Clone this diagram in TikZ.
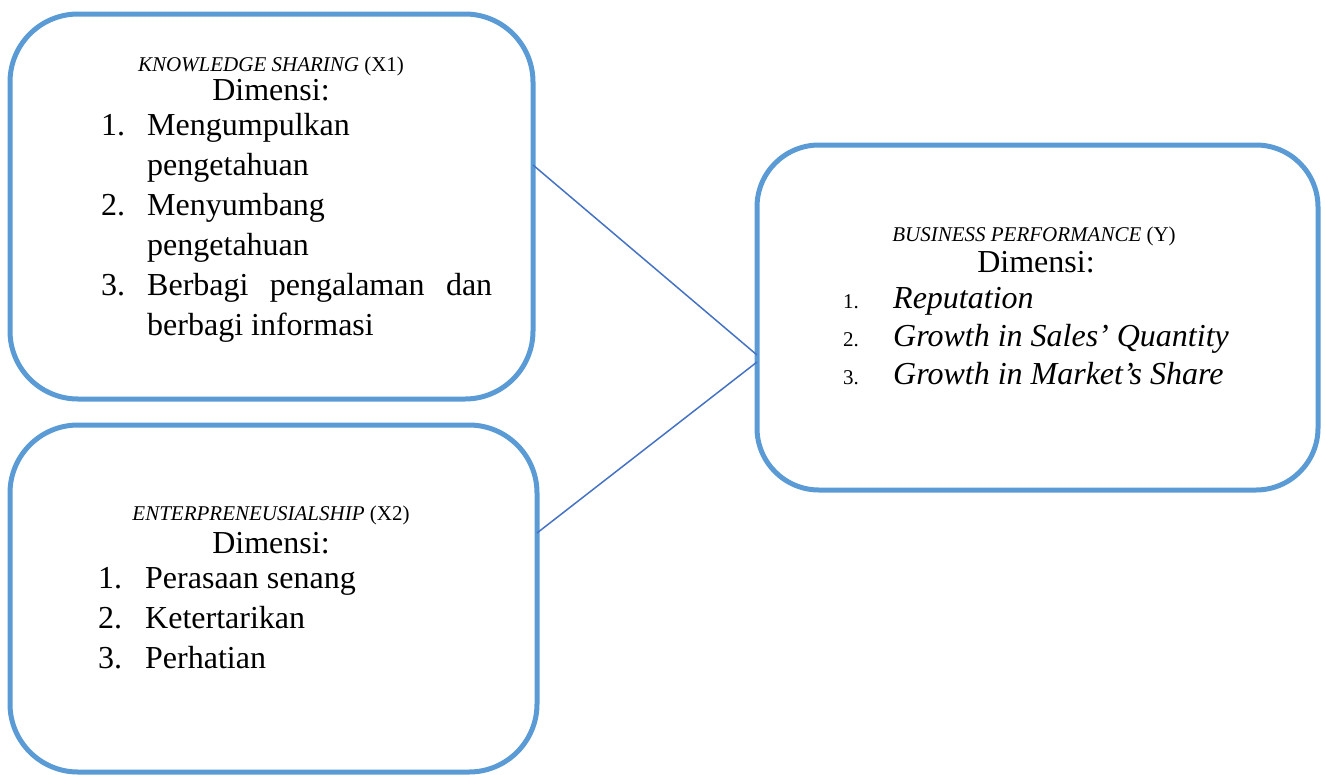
\documentclass[tikz,border=0pt]{standalone}
\usepackage{fontspec}
\setmainfont{Liberation Serif}
\definecolor{boxblue}{HTML}{5B9BD5}
\definecolor{lineblue}{HTML}{4472C4}
\tikzset{
  boxframe/.style={draw=boxblue, line width=5pt, rounded corners=68pt},
  conn/.style={draw=lineblue, line width=1.5pt},
  ttl/.style={anchor=base, inner sep=0pt, text depth=0pt, font=\fontsize{21}{25}\selectfont},
  dim/.style={anchor=base, inner sep=0pt, text height=21pt, font=\fontsize{32}{40}\selectfont},
  itm/.style={anchor=base west, inner sep=0pt, font=\fontsize{32}{40}\selectfont},
  smnum/.style={anchor=base west, inner sep=0pt, font=\fontsize{21}{25}\selectfont},
}
\begin{document}
\begin{tikzpicture}[x=1pt,y=-1pt]
\useasboundingbox (0,0) rectangle (1325,774);
% boxes
\draw[boxframe] (10,14) rectangle (533,399);
\draw[boxframe] (10,425) rectangle (537,772);
\draw[boxframe, rounded corners=62pt] (757,145) rectangle (1318,490);
% anchor coordinates on box edges
\coordinate (a1) at (533,165);
\coordinate (a2) at (537,533);
\coordinate (b1) at (757,355);
\coordinate (b2) at (757,362);
\draw[conn] (a1) -- (b1);
\draw[conn] (a2) -- (b2);
% Box 1
\node[ttl] (t1) at (271,71) {\textit{KNOWLEDGE SHARING} (X1)};
\node[dim] (d1) at (271,100) {Dimensi:};
\node[itm] (n11) at (101,135) {1.};
\node[itm] (i11) at (147,135) {Mengumpulkan};
\node[itm] (i12) at (147,175) {pengetahuan};
\node[itm] (n12) at (101,215) {2.};
\node[itm] (i13) at (147,215) {Menyumbang};
\node[itm] (i14) at (147,255) {pengetahuan};
\node[itm] (n13) at (101,295) {3.};
\node[itm] (i15) at (147,295) {\makebox[345pt][s]{Berbagi pengalaman dan}};
\node[itm] (i16) at (147,335) {berbagi informasi};
% Box 2
\node[ttl] (t2) at (271,520) {\textit{ENTERPRENEUSIALSHIP} (X2)};
\node[dim] (d2) at (271,553) {Dimensi:};
\node[itm] (n21) at (98,588) {1.};
\node[itm] (i21) at (145,588) {Perasaan senang};
\node[itm] (n22) at (98,628) {2.};
\node[itm] (i22) at (145,628) {Ketertarikan};
\node[itm] (n23) at (98,668) {3.};
\node[itm] (i23) at (145,668) {Perhatian};
% Box 3
\node[ttl] (t3) at (1034,241) {\textit{BUSINESS PERFORMANCE} (Y)};
\node[dim] (d3) at (1036,272) {Dimensi:};
\node[smnum] (n31) at (843,308) {1.};
\node[itm] (i31) at (893,308) {\textit{Reputation}};
\node[smnum] (n32) at (843,346) {2.};
\node[itm] (i32) at (893,346) {\textit{Growth in Sales’ Quantity}};
\node[smnum] (n33) at (843,384) {3.};
\node[itm] (i33) at (893,384) {\textit{Growth in Market’s Share}};
\end{tikzpicture}
\end{document}
